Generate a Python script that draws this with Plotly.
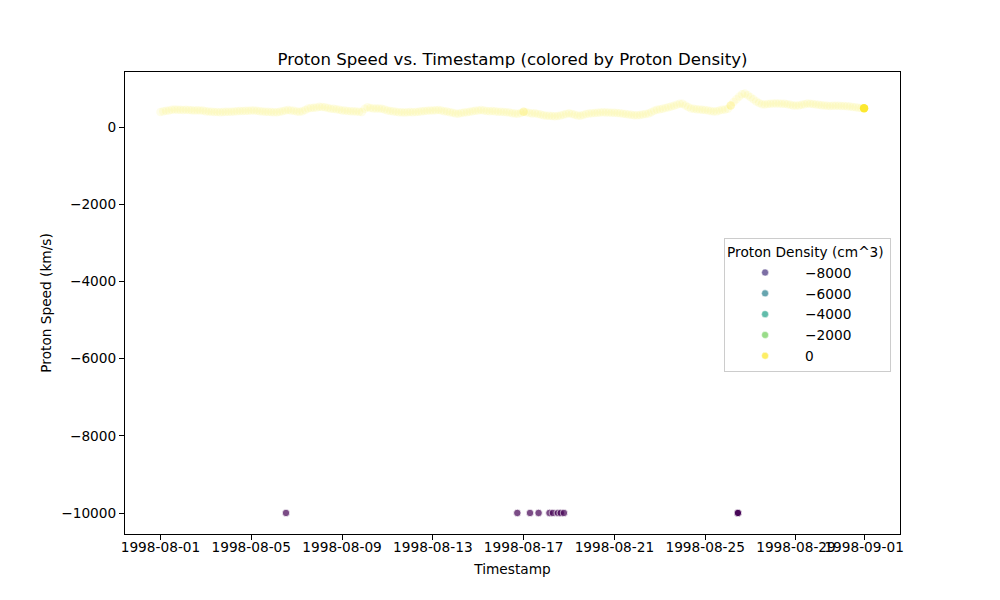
import pandas as pd
import plotly.graph_objects as go

# Three-hourly readings from 1998-08-01 00:00 to 1998-09-01 00:00
speed = [
 390,405,420,430,445,455,450,445,
 440,445,440,435,430,432,428,425,
 405,400,395,390,388,385,390,392,
 395,398,402,408,412,415,418,420,
 425,428,420,410,400,398,392,388,
 380,385,395,410,425,440,430,420,
 400,395,410,440,480,495,500,505,
 525,520,510,495,475,470,460,450,
 430,425,415,410,405,400,395,390,
 470,510,490,480,478,480,470,455,
 425,415,405,395,385,380,378,382,
 390,385,390,395,405,415,420,425,
 425,435,440,425,410,400,385,370,
 350,345,360,375,385,395,410,420,
 425,440,430,415,410,415,405,395,
 395,390,385,375,355,350,345,360,
 398,380,365,350,354,340,325,305,
 294,290,285,280,285,300,320,340,
 354,340,315,300,294,310,335,350,
 354,360,368,375,380,378,375,372,
 372,365,355,345,335,325,315,305,
 302,310,325,340,352,385,420,450,
 460,470,490,510,530,550,575,605,
 600,560,520,480,470,462,455,448,
 440,430,415,400,405,425,445,455,
 470,560,650,720,790,850,865,820,
 770,720,660,620,590,585,595,605,
 610,612,608,605,600,590,575,560,
 555,560,575,590,610,605,595,585,
 575,565,555,550,545,548,552,550,
 544,546,540,530,520,510,500,490,
 484,
]
density = [
 8,7,6,6,5,5,5,6, 6,6,7,7,7,6,6,6, 7,7,8,8,8,8,7,7, 6,6,6,6,5,5,5,6,
 6,6,6,7,7,8,8,8, 9,8,8,7,7,6,6,7, 8,9,9,9,8,7,6,6, 5,5,5,6,6,7,7,8,
 8,8,9,9,9,9,9,8, 6,5,5,5,5,6,6,7, 7,8,8,9,9,9,9,9, 8,8,8,8,7,7,7,7,
 7,7,6,7,7,8,8,9, 10,10,9,9,8,8,7,7, 7,6,7,7,7,7,8,8, 8,9,9,10,11,12,12,12,
 10,11,12,13,13,14,15,16, 18,19,20,21,20,18,16,14, 13,14,16,17,18,16,14,13,
 13,12,12,11,11,11,11,11, 11,12,12,13,14,15,16,16, 15,14,12,10,10,9,8,8,
 8,7,7,6,6,5,5,5, 5,6,7,8,9,9,9,9, 9,10,11,10,10,9,8,8, 10,20,35,30,20,12,10,8,
 6,5,5,5,5,5,5,5, 5,5,5,5,5,5,6,6, 6,6,5,5,5,5,5,6, 6,6,6,6,6,6,6,6,
 6,6,6,7,7,7,8,8, 40,
]
times = pd.date_range("1998-08-01", periods=len(speed), freq="3h").strftime("%Y-%m-%d %H:%M").tolist()

gap_times = ["1998-08-06 12:45", "1998-08-16 17:20", "1998-08-17 06:45", "1998-08-17 15:50",
             "1998-08-18 03:20", "1998-08-18 07:00", "1998-08-18 12:15", "1998-08-18 15:20",
             "1998-08-18 18:40", "1998-08-26 10:30", "1998-08-26 10:35", "1998-08-26 10:40"]
gap_speed = [-9999] * len(gap_times)
gap_density = [-9999] * len(gap_times)

legend_labels = ["\u22128000", "\u22126000", "\u22124000", "\u22122000", "0"]
legend_colors = ["#46327e", "#277f8e", "#1fa187", "#6ece58", "#fde725"]

x_ticks = ["1998-08-01", "1998-08-05", "1998-08-09", "1998-08-13", "1998-08-17",
           "1998-08-21", "1998-08-25", "1998-08-29", "1998-09-01"]
y_ticks = [0, -2000, -4000, -6000, -8000, -10000]
y_labels = ["0", "\u22122000", "\u22124000", "\u22126000", "\u22128000", "\u221210000"]

FONT = "DejaVu Sans"

# The hourly source band reads pale: three-hourly points with light markers give the same wash.
alphas = [0.1] * len(speed)
for i in (128, 201):
    alphas[i] = 0.28
alphas[-1] = 0.95

fig = go.Figure()
fig.add_trace(go.Scatter(x=times, y=speed, mode="markers", showlegend=False,
                         marker=dict(color=density, size=8.5, opacity=alphas,
                                     line=dict(width=0),
                                     colorscale="Viridis", cmin=-9999, cmax=60)))
fig.add_trace(go.Scatter(x=gap_times, y=gap_speed, mode="markers", showlegend=False,
                         marker=dict(color=gap_density, size=7.5, opacity=0.7,
                                     line=dict(color="white", width=0.8),
                                     colorscale="Viridis", cmin=-9999, cmax=60)))
for label, color in zip(legend_labels, legend_colors):
    fig.add_trace(go.Scatter(x=[None], y=[None], mode="markers", name=label,
                             marker=dict(color=color, size=7, opacity=0.7,
                                         line=dict(color="white", width=0.5))))

axis_common = dict(showgrid=False, zeroline=False, showline=True, linecolor="black", linewidth=1,
                   mirror=True, ticks="outside", ticklen=5, tickwidth=1, tickcolor="black",
                   tickfont=dict(family=FONT, size=13.7, color="black"), tickangle=0)

fig.update_layout(
    width=1000, height=600, autosize=False,
    margin=dict(l=117, r=108, t=64, b=74),
    paper_bgcolor="white", plot_bgcolor="white",
    font=dict(family=FONT, size=13.7, color="black"),
    title=dict(text="Proton Speed vs. Timestamp (colored by Proton Density)",
               x=0.5045, xanchor="center", y=0.915, yanchor="middle",
               font=dict(family=FONT, size=16.6, color="black")),
    xaxis=dict(range=["1998-07-30 10:30", "1998-09-02 14:00"], type="date",
               tickmode="array", tickvals=x_ticks, ticktext=x_ticks, ticklabelstandoff=-4,
               title=dict(text="Timestamp", standoff=9, font=dict(family=FONT, size=13.7)), **axis_common),
    yaxis=dict(range=[-10544, 1425], tickmode="array", tickvals=y_ticks, ticktext=y_labels,
               title=dict(text="Proton Speed (km/s)", standoff=6, font=dict(family=FONT, size=13.7)), **axis_common),
    legend=dict(x=0.773, xanchor="left", y=0.64, yanchor="top",
                title=dict(text="Proton Density (cm^3)\u00a0", font=dict(family=FONT, size=13.7)),
                font=dict(family=FONT, size=13.7),
                bgcolor="rgba(255,255,255,0.8)", bordercolor="#cccccc", borderwidth=1,
                itemwidth=70, tracegroupgap=0),
)

fig.write_html("out.html")
